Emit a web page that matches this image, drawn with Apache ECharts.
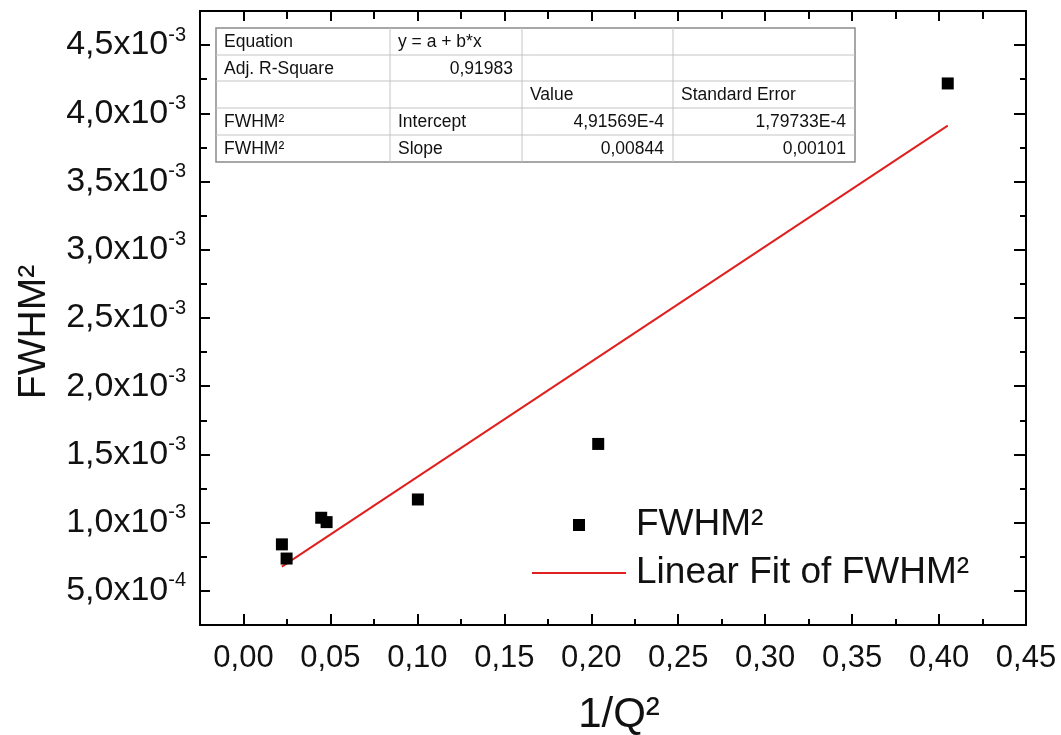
<!DOCTYPE html>
<html>
<head>
<meta charset="utf-8">
<script src="https://cdn.jsdelivr.net/npm/echarts@6/dist/echarts.min.js"></script>
<style>html,body{margin:0;padding:0;background:#fff;}#chart{width:1061px;height:735px;}</style>
</head>
<body>
<div id="chart"></div>
<script>
// ---- data ----
const scatterX = [0.0221, 0.0248, 0.0447, 0.0478, 0.1003, 0.2040, 0.4050];
const scatterY = [0.000841, 0.000737, 0.001036, 0.001004, 0.001170, 0.001577, 0.004219];
const fitX = [0.0221, 0.4050];
const fitY = [0.000678, 0.003910];

const xTicks = [0, 0.05, 0.10, 0.15, 0.20, 0.25, 0.30, 0.35, 0.40, 0.45];
const xTickLabels = ['0,00','0,05','0,10','0,15','0,20','0,25','0,30','0,35','0,40','0,45'];
const xMinor = [0.025, 0.075, 0.125, 0.175, 0.225, 0.275, 0.325, 0.375, 0.425];

const yTicks = [0.0005, 0.0010, 0.0015, 0.0020, 0.0025, 0.0030, 0.0035, 0.0040, 0.0045];
const yTickMant = ['5,0','1,0','1,5','2,0','2,5','3,0','3,5','4,0','4,5'];
const yTickExp = ['-4','-3','-3','-3','-3','-3','-3','-3','-3'];
const yMinor = [0.00075, 0.00125, 0.00175, 0.00225, 0.00275, 0.00325, 0.00375, 0.00425];

const seriesNames = ['FWHM²', 'Linear Fit of FWHM²'];
const tableRows = [
  ['Equation', 'y = a + b*x', '', ''],
  ['Adj. R-Square', '0,91983', '', ''],
  ['', '', 'Value', 'Standard Error'],
  ['FWHM²', 'Intercept', '4,91569E-4', '1,79733E-4'],
  ['FWHM²', 'Slope', '0,00844', '0,00101']
];
const tableAlign = [
  ['left','left','left','left'],
  ['left','right','left','left'],
  ['left','left','left','left'],
  ['left','left','right','right'],
  ['left','left','right','right']
];

// ---- layout ----
const FONT = '"Liberation Sans", Arial, sans-serif';
const xMin = -0.025, xMax = 0.45, yMin = 0.00025, yMax = 0.00475;

function idxOf(arr, v){ for (let i=0;i<arr.length;i++){ if (Math.abs(arr[i]-v) < 1e-9) return i; } return -1; }

function xAxisDef(pos, values, len, showLine, showLabel) {
  return {
    type: 'value', position: pos, min: xMin, max: xMax,
    axisLine: { show: showLine, onZero: false, lineStyle: { color: '#000', width: 2 } },
    axisTick: { show: true, inside: true, length: len, customValues: values, lineStyle: { color: '#000', width: 2 } },
    axisLabel: showLabel ? {
      show: true, customValues: values, margin: 18,
      formatter: v => { const i = idxOf(xTicks, v); return i >= 0 ? xTickLabels[i] : ''; },
      color: '#111', fontSize: 31, fontFamily: FONT
    } : { show: false },
    splitLine: { show: false }
  };
}
function yAxisDef(pos, values, len, showLine, showLabel) {
  return {
    type: 'value', position: pos, min: yMin, max: yMax,
    axisLine: { show: showLine, onZero: false, lineStyle: { color: '#000', width: 2 } },
    axisTick: { show: true, inside: true, length: len, customValues: values, lineStyle: { color: '#000', width: 2 } },
    axisLabel: showLabel ? {
      show: true, customValues: values, margin: 14,
      formatter: v => { const i = idxOf(yTicks, v); return i >= 0 ? '{m|' + yTickMant[i] + 'x10}{s|' + yTickExp[i] + '}' : ''; },
      rich: {
        m: { fontSize: 34, fontFamily: FONT, color: '#111', lineHeight: 40 },
        s: { fontSize: 20, fontFamily: FONT, color: '#111', verticalAlign: 'top', lineHeight: 22 }
      }
    } : { show: false },
    splitLine: { show: false }
  };
}

const xAxes = [
  xAxisDef('bottom', xTicks, 11, true, true),
  xAxisDef('bottom', xMinor, 6, false, false),
  xAxisDef('top', xTicks, 10, true, false),
  xAxisDef('top', xMinor, 8, false, false)
];
Object.assign(xAxes[0], {
  name: '1/Q²', nameLocation: 'middle', nameGap: 69,
  nameTextStyle: { fontSize: 42, fontFamily: FONT, color: '#111', padding: [0, 0, 0, 12] }
});
const yAxes = [
  yAxisDef('left', yTicks, 10, true, true),
  yAxisDef('left', yMinor, 7, false, false),
  yAxisDef('right', yTicks, 12, true, false),
  yAxisDef('right', yMinor, 6, false, false)
];
Object.assign(yAxes[0], {
  name: 'FWHM²', nameLocation: 'middle', nameGap: 146, nameRotate: 90,
  nameTextStyle: { fontSize: 39, fontFamily: FONT, color: '#111', padding: [0, 28, 0, 0] }
});

// table graphic
const colX = [216, 390, 522, 673, 855];
const rowY = [28, 55, 81, 108, 135, 162];
const tableChildren = [];
tableChildren.push({ type: 'rect', shape: { x: colX[0], y: rowY[0], width: colX[4]-colX[0], height: rowY[5]-rowY[0] },
  style: { fill: '#fff', stroke: '#8a8a8a', lineWidth: 1.5 } });
for (let r = 1; r < rowY.length - 1; r++) {
  tableChildren.push({ type: 'line', shape: { x1: colX[0], y1: rowY[r], x2: colX[4], y2: rowY[r] }, style: { stroke: '#c4c4c4', lineWidth: 1 } });
}
for (let c = 1; c < colX.length - 1; c++) {
  tableChildren.push({ type: 'line', shape: { x1: colX[c], y1: rowY[0], x2: colX[c], y2: rowY[5] }, style: { stroke: '#c4c4c4', lineWidth: 1 } });
}
tableRows.forEach((row, r) => {
  row.forEach((txt, c) => {
    if (!txt) return;
    const al = tableAlign[r][c];
    tableChildren.push({
      type: 'text',
      x: al === 'left' ? colX[c] + 8 : colX[c+1] - 9,
      y: (rowY[r] + rowY[r+1]) / 2 + 1,
      style: { text: txt, fill: '#111', font: '17.5px ' + FONT, align: al, textAlign: al, verticalAlign: 'middle', textVerticalAlign: 'middle' }
    });
  });
});

const option = {
  backgroundColor: '#fff',
  animation: false,
  grid: { left: 200, right: 35, top: 11, bottom: 110, containLabel: false, outerBoundsMode: 'none' },
  xAxis: xAxes,
  yAxis: yAxes,
  legend: {
    orient: 'vertical', left: 532, top: 505, padding: 0,
    itemWidth: 94, itemHeight: 12, itemGap: 8,
    data: [
      { name: seriesNames[0], icon: 'path://M0,0H10V10H0Z' },
      { name: seriesNames[1], icon: 'path://M0,0H94V2H0Z' }
    ],
    textStyle: { fontSize: 37, lineHeight: 40, fontFamily: FONT, color: '#111', padding: [0, 0, 0, 5] }
  },
  series: [
    {
      name: seriesNames[0], type: 'scatter', xAxisIndex: 0, yAxisIndex: 0,
      symbol: 'rect', symbolSize: 12, itemStyle: { color: '#000', opacity: 1 },
      data: scatterX.map((x, i) => [x, scatterY[i]]), z: 3
    },
    {
      name: seriesNames[1], type: 'line', xAxisIndex: 0, yAxisIndex: 0,
      symbol: 'none', showSymbol: false, lineStyle: { color: '#e0201e', width: 2 }, itemStyle: { color: '#e0201e' },
      data: fitX.map((x, i) => [x, fitY[i]]), z: 2
    }
  ],
  graphic: [{ type: 'group', children: tableChildren }]
};

const chart = echarts.init(document.getElementById('chart'), null, { renderer: 'canvas' });
chart.setOption(option);
</script>
</body>
</html>
